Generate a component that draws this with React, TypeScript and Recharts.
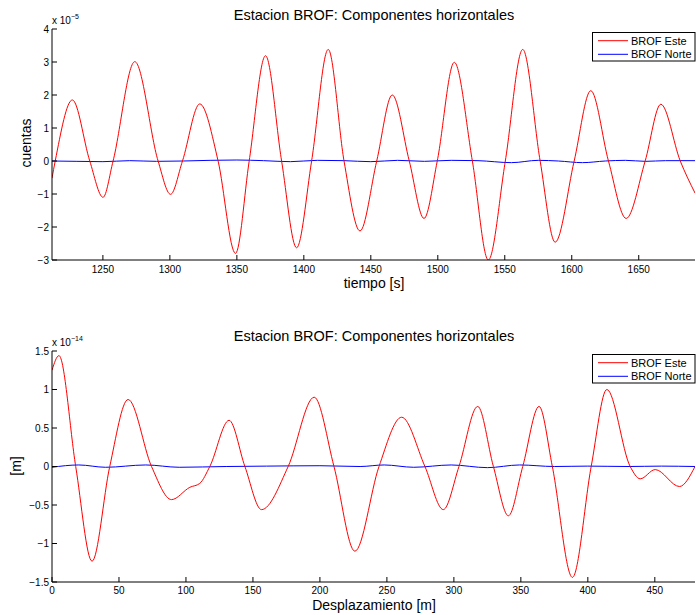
import React from 'react';
import { LineChart, Line, XAxis, YAxis, Legend } from 'recharts';

const FONT = '"Liberation Sans", Arial, Helvetica, sans-serif';

// Top panel: tiempo [s] vs cuentas (x 1e-5)
const topEsteTime = [1212, 1214.4, 1227.2, 1240.2, 1250.1, 1257.6, 1273.8, 1291.2, 1300.5, 1309.4, 1322.3, 1336, 1349, 1359.2, 1371.4, 1383.4, 1394.6, 1405.8, 1418.2, 1430, 1441.9, 1454.4, 1466, 1478.7, 1489.7, 1499.6, 1512.3, 1525.8, 1537.7, 1550.4, 1563.4, 1576.4, 1587.6, 1601.8, 1614.2, 1627.4, 1640.6, 1654.8, 1666.5, 1681, 1692];
const topEste = [-0.52, 0, 1.85, 0, -1.1, 0, 3.01, 0, -1.01, 0, 1.73, 0, -2.8, 0, 3.19, 0, -2.63, 0, 3.38, 0, -2.12, 0, 2.0, 0, -1.74, 0, 2.99, 0, -3.0, 0, 3.38, 0, -2.46, 0, 2.13, 0, -1.74, 0, 1.72, 0, -0.97];
const topNorteTime = [1212, 1230, 1250, 1270, 1290, 1310, 1330, 1350, 1370, 1390, 1410, 1430, 1450, 1470, 1490, 1510, 1530, 1555, 1575, 1590, 1608, 1625, 1640, 1655, 1670, 1692];
const topNorte = [0.0, -0.01, -0.02, 0.01, -0.01, 0.0, 0.02, 0.03, 0.01, -0.02, 0.02, 0.01, -0.02, 0.02, -0.01, 0.02, 0.01, -0.05, 0.02, 0.0, -0.05, 0.0, 0.02, -0.01, 0.01, 0.01];
const topXTicks = [1250, 1300, 1350, 1400, 1450, 1500, 1550, 1600, 1650];
const topYTicks = [-3, -2, -1, 0, 1, 2, 3, 4];

// Bottom panel: Desplazamiento [m] vs [m] (x 1e-14)
const botEsteDist = [0, 5.2, 17.7, 29.9, 43.1, 56.8, 74.3, 89.2, 102.9, 110.3, 117.8, 132.2, 144, 156.4, 176.3, 195.7, 210.5, 226.1, 244.1, 261, 278.4, 292.1, 303.8, 317.8, 329.5, 340.7, 351.4, 363.6, 373.5, 388.5, 402.5, 414.2, 431.6, 439.1, 450.3, 468.4, 480];
const botEste = [1.25, 1.44, 0, -1.23, 0, 0.87, 0, -0.43, -0.27, -0.22, 0, 0.6, 0, -0.56, 0, 0.9, 0, -1.1, 0, 0.64, 0, -0.56, 0, 0.78, 0, -0.64, 0, 0.78, 0, -1.44, 0, 1.0, 0, -0.16, -0.04, -0.26, 0.0];
const botNorteDist = [0, 20, 40, 70, 95, 130, 160, 200, 230, 248, 270, 298, 325, 349, 375, 400, 430, 455, 480];
const botNorte = [-0.01, 0.02, -0.01, 0.02, -0.01, 0.0, 0.005, 0.01, 0.0, 0.02, -0.01, 0.02, -0.015, 0.02, 0.0, 0.005, 0.0, 0.005, 0.0];
const botXTicks = [0, 50, 100, 150, 200, 250, 300, 350, 400, 450];
const botYTicks = [-1.5, -1, -0.5, 0, 0.5, 1, 1.5];

const seriesNames = ['BROF Este', 'BROF Norte'];
const seriesColors = ['#ff0000', '#0000ff'];

const zip = (xs: number[], ys: number[]) => xs.map((x, i) => ({ x, y: ys[i] }));
const fmt = (v: number) => String(v).replace('-', '\u2212');

const LegendBox = () => (
  <svg width={104} height={30} style={{ display: 'block' }}>
    <rect x={0.5} y={0.5} width={102.5} height={28.5} fill="#fff" stroke="#000" strokeWidth={1} />
    {seriesNames.map((n, i) => (
      <g key={n}>
        <line x1={6} x2={36} y1={8.7 + i * 13.6} y2={8.7 + i * 13.6} stroke={seriesColors[i]} strokeWidth={1} />
        <text x={39} y={12.6 + i * 13.6} fontSize={11} fontFamily={FONT} fill="#000">{n}</text>
      </g>
    ))}
  </svg>
);

type PanelProps = {
  top: number;
  height: number;
  marginTop: number;
  xAxisHeight: number;
  xDomain: [number, number];
  yDomain: [number, number];
  xTicks: number[];
  yTicks: number[];
  este: { x: number; y: number }[];
  norte: { x: number; y: number }[];
  xTickMargin: number;
};

const tickStyle = { fontSize: 10, fill: '#000', fontFamily: FONT };

const Panel = (p: PanelProps) => (
  <div style={{ position: 'absolute', left: 0, top: p.top }}>
    <LineChart width={696} height={p.height} margin={{ top: p.marginTop, right: 1, bottom: 0, left: 0 }}>
      <XAxis xAxisId="b" type="number" dataKey="x" domain={p.xDomain} allowDataOverflow ticks={p.xTicks} interval={0}
        height={p.xAxisHeight} tickSize={-5} tickMargin={p.xTickMargin} stroke="#000" tick={tickStyle}
        tickLine={{ stroke: '#000' }} axisLine={{ stroke: '#000' }} tickFormatter={fmt} />
      <XAxis xAxisId="t" orientation="top" type="number" dataKey="x" domain={p.xDomain} allowDataOverflow ticks={p.xTicks} interval={0}
        height={0} tickSize={-5} tick={false} stroke="#000" tickLine={{ stroke: '#000' }} axisLine={{ stroke: '#000' }} />
      <YAxis yAxisId="l" type="number" domain={p.yDomain} allowDataOverflow ticks={p.yTicks} interval={0}
        width={52} tickSize={-5} tickMargin={8} stroke="#000" tick={tickStyle}
        tickLine={{ stroke: '#000' }} axisLine={{ stroke: '#000' }} tickFormatter={fmt} />
      <YAxis yAxisId="r" orientation="right" type="number" domain={p.yDomain} allowDataOverflow ticks={p.yTicks} interval={0}
        width={0} tickSize={-5} tick={false} stroke="#000" tickLine={{ stroke: '#000' }} axisLine={{ stroke: '#000' }} />
      <Line xAxisId="b" yAxisId="l" data={p.norte} dataKey="y" name={seriesNames[1]} type="monotone" stroke={seriesColors[1]}
        strokeWidth={1} dot={false} activeDot={false} isAnimationActive={false} />
      <Line xAxisId="b" yAxisId="l" data={p.este} dataKey="y" name={seriesNames[0]} type="monotone" stroke={seriesColors[0]}
        strokeWidth={1} dot={false} activeDot={false} isAnimationActive={false} />
      <Legend layout="vertical" align="center" verticalAlign="middle" content={() => <LegendBox />}
        wrapperStyle={{ left: 592, top: p.marginTop + 3, width: 104, height: 30 }} />
    </LineChart>
  </div>
);

export default function App() {
  return (
    <div style={{ position: 'absolute', left: 0, top: 0, width: 696, height: 615, background: '#fff', fontFamily: FONT }}>
      <Panel top={0} height={300} marginTop={29} xAxisHeight={40} xDomain={[1212, 1692]} yDomain={[-3, 4]}
        xTicks={topXTicks} yTicks={topYTicks} este={zip(topEsteTime, topEste)} norte={zip(topNorteTime, topNorte)} xTickMargin={10.5} />
      <Panel top={320} height={295} marginTop={31} xAxisHeight={33} xDomain={[0, 480]} yDomain={[-1.5, 1.5]}
        xTicks={botXTicks} yTicks={botYTicks} este={zip(botEsteDist, botEste)} norte={zip(botNorteDist, botNorte)} xTickMargin={10} />
      <svg width={696} height={615} style={{ position: 'absolute', left: 0, top: 0, pointerEvents: 'none' }}>
        <g fontFamily={FONT} fill="#000">
          <text x={374} y={20} fontSize={14.5} textAnchor="middle">Estacion BROF: Componentes horizontales</text>
          <text x={52} y={24} fontSize={10}>x 10<tspan dy={-5} fontSize={7}>{'\u22125'}</tspan></text>
          <text x={374} y={288} fontSize={14} textAnchor="middle">tiempo [s]</text>
          <text transform="translate(30.5,143) rotate(-90)" fontSize={14} textAnchor="middle">cuentas</text>

          <text x={374} y={340.5} fontSize={14.5} textAnchor="middle">Estacion BROF: Componentes horizontales</text>
          <text x={52} y={346} fontSize={10}>x 10<tspan dy={-5} fontSize={7}>{'\u221214'}</tspan></text>
          <text x={374} y={610} fontSize={14} textAnchor="middle">Desplazamiento [m]</text>
          <text transform="translate(20.5,466) rotate(-90)" fontSize={14} textAnchor="middle">[m]</text>
        </g>
      </svg>
    </div>
  );
}
